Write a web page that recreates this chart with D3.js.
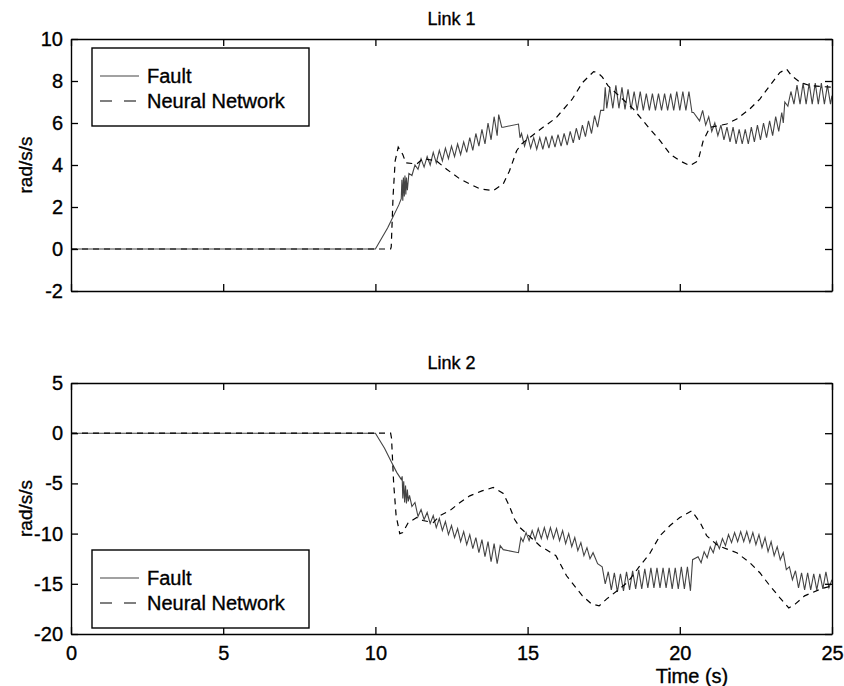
<!DOCTYPE html>
<html><head><meta charset="utf-8">
<script src="https://cdn.jsdelivr.net/npm/d3@7/dist/d3.min.js"></script>
<style>body{margin:0;background:#fff}svg{display:block}text{font-family:"Liberation Sans",Arial,sans-serif;fill:#000;stroke:#000;stroke-width:0.35px}</style>
</head><body><svg id="c" width="844" height="686"></svg>
<script>
// ---------- data ----------
const xTicks = [0, 5, 10, 15, 20, 25];
const link1YTicks = [-2, 0, 2, 4, 6, 8, 10];
const link2YTicks = [-20, -15, -10, -5, 0, 5];
const seriesNames = ["Fault", "Neural Network"];

const link1Fault = [[0,0],[10.0,0],[10.4,1.0],[10.77,2.1],[10.85,2.4],[10.87,3.3],[10.9,2.3],[10.92,3.4],[10.95,2.5],[10.97,3.5],[11.0,2.6],[11.02,3.4],[11.05,2.8],[11.1,3.6],[11.2,3.5],[11.3,4.0],[11.4,3.8],
[11.5,4.3],[11.6,3.9],[11.7,4.4],[11.8,4.0],[11.9,4.6],[12.0,4.1],[12.1,4.7],[12.2,4.2],[12.3,4.8],[12.4,4.3],[12.5,4.9],[12.6,4.4],[12.7,5.0],[12.8,4.5],[12.9,5.1],[13.0,4.6],[13.1,5.3],[13.2,4.7],[13.3,5.5],[13.4,4.9],[13.5,5.7],[13.6,5.0],[13.7,6.0],[13.8,5.2],[13.9,6.3],[14.0,5.4],[14.05,6.4],[14.15,5.8],
[14.2,5.8],[14.7,5.95],[14.75,5.3],
[14.8,5.5],[14.9,4.9],[15.0,5.4],[15.1,4.8],[15.2,5.3],[15.3,4.75],[15.4,5.3],[15.5,4.75],[15.6,5.35],[15.7,4.8],[15.8,5.4],[15.9,4.85],[16.0,5.45],[16.1,4.9],[16.2,5.5],[16.3,4.95],[16.4,5.6],[16.5,5.05],[16.6,5.75],[16.7,5.2],[16.8,5.9],[16.9,5.35],[17.0,6.1],[17.1,5.5],[17.2,6.35],[17.3,5.8],[17.4,6.6],[17.5,6.6],[17.55,7.7],[17.6,6.7],
[17.7,7.7],[17.8,6.7],[17.9,7.8],[18.0,6.7],[18.1,7.7],[18.2,6.65],[18.3,7.6],[18.4,6.65],[18.5,7.5],[18.6,6.6],[18.7,7.5],[18.8,6.6],[18.9,7.4],[19.0,6.6],[19.1,7.4],[19.2,6.6],[19.3,7.4],[19.4,6.6],[19.5,7.4],[19.6,6.6],[19.7,7.4],[19.8,6.6],[19.9,7.5],[20.0,6.6],[20.1,7.5],[20.2,6.6],[20.3,7.5],[20.4,6.5],
[20.45,6.5],[20.65,6.1],[20.75,6.6],[20.85,5.9],[20.95,6.3],[21.05,5.6],[21.15,6.0],[21.25,5.4],
[21.35,5.9],[21.45,5.2],[21.55,5.8],[21.65,5.1],[21.75,5.8],[21.85,5.0],[21.95,5.7],[22.05,5.0],[22.15,5.7],[22.25,5.0],[22.35,5.8],[22.45,5.1],[22.55,5.9],[22.65,5.2],[22.75,6.0],[22.85,5.3],[22.95,6.1],[23.05,5.4],[23.15,6.3],[23.25,5.6],[23.35,6.5],[23.4,6.0],
[23.45,7.0],[23.55,6.8],[23.65,7.5],[23.75,6.9],[23.85,7.8],[23.95,6.9],[24.05,7.9],[24.15,6.9],[24.25,7.9],[24.35,6.9],[24.45,7.9],[24.55,6.9],[24.65,7.9],[24.75,6.9],[24.85,7.8],[24.95,6.9],[25,7.3]];

const link1NN = [[0,0],[10.5,0],[10.52,0.1],[10.58,2.5],[10.65,4.2],[10.75,4.85],[10.9,4.5],[11.0,4.1],[11.36,4.05],[11.56,4.3],[12.0,4.2],[12.34,3.8],[12.78,3.33],[13.22,3.01],[13.44,2.86],[13.87,2.78],[14.2,3.1],[14.4,3.7],[14.64,4.68],[14.8,5.0],[15.4,5.68],[15.93,6.24],[16.46,7.12],[16.8,7.92],[17.17,8.45],[17.3,8.4],[17.45,8.2],[17.64,7.78],[18.47,6.67],[19.02,5.71],[19.35,5.16],[19.68,4.52],[20.0,4.2],[20.33,3.97],[20.6,4.2],[20.77,5.16],[20.99,5.79],[21.54,5.95],[21.87,6.19],[22.3,6.67],[22.63,7.14],[22.96,7.78],[23.29,8.41],[23.51,8.57],[23.67,8.25],[23.95,7.94],[24.28,7.78],[25,7.7]];

const link2Fault = [[0,0],[10.0,0],[10.3,-1.5],[10.53,-2.9],[10.7,-3.9],[10.85,-4.6],[10.88,-4.3],[10.9,-6.5],[10.93,-4.8],[10.96,-6.9],[10.99,-5.2],[11.02,-7.0],[11.05,-5.6],[11.08,-6.8],[11.12,-6.2],[11.2,-7.3],[11.3,-6.9],
[11.4,-8.3],[11.5,-7.6],[11.6,-8.6],[11.7,-7.9],[11.8,-9.0],[11.9,-8.2],[12.0,-9.4],[12.1,-8.5],[12.2,-9.7],[12.3,-8.8],[12.4,-10.1],[12.5,-9.2],[12.6,-10.4],[12.7,-9.5],[12.8,-10.8],[12.9,-9.8],[13.0,-11.1],[13.1,-10.1],[13.2,-11.5],[13.3,-10.4],[13.4,-11.9],[13.5,-10.6],[13.6,-12.3],[13.7,-10.8],[13.8,-12.8],[13.9,-11.0],[14.0,-13.0],[14.1,-11.2],
[14.2,-11.6],[14.7,-11.9],[14.78,-10.4],
[14.85,-10.8],[14.95,-9.9],[15.05,-10.7],[15.15,-9.7],[15.25,-10.6],[15.35,-9.5],[15.45,-10.5],[15.55,-9.4],[15.65,-10.5],[15.75,-9.4],[15.85,-10.5],[15.95,-9.5],[16.05,-10.7],[16.15,-9.7],[16.25,-11.0],[16.35,-10.0],[16.45,-11.3],[16.55,-10.4],[16.65,-11.7],[16.75,-10.9],[16.85,-12.2],[16.95,-11.4],[17.05,-12.5],[17.15,-11.9],
[17.3,-13.0],[17.45,-13.3],
[17.55,-15.0],[17.65,-13.8],[17.75,-15.6],[17.85,-13.9],[17.95,-15.8],[18.05,-14.0],[18.15,-15.7],[18.25,-13.8],[18.35,-15.6],[18.45,-13.7],[18.55,-15.5],[18.65,-13.6],[18.75,-15.5],[18.85,-13.5],[18.95,-15.4],[19.05,-13.4],[19.15,-15.4],[19.25,-13.4],[19.35,-15.4],[19.45,-13.4],[19.55,-15.4],[19.65,-13.4],[19.75,-15.5],[19.85,-13.4],[19.95,-15.5],[20.05,-13.3],[20.15,-15.5],[20.25,-13.3],[20.35,-15.7],
[20.42,-12.6],[20.6,-12.3],[20.7,-12.9],[20.8,-11.8],[20.9,-12.4],[21.0,-11.3],[21.1,-11.9],[21.2,-10.8],[21.3,-11.5],[21.4,-10.5],[21.5,-11.2],[21.6,-10.1],[21.7,-10.9],[21.8,-9.9],[21.9,-10.8],[22.0,-9.8],[22.1,-10.8],[22.2,-9.8],[22.3,-10.9],[22.4,-9.9],[22.5,-11.1],[22.6,-10.1],[22.7,-11.4],[22.8,-10.4],[22.9,-11.8],[23.0,-10.8],[23.1,-12.2],[23.2,-11.3],[23.3,-12.6],[23.4,-11.9],
[23.5,-13.6],[23.6,-13.3],[23.7,-14.6],[23.8,-13.7],[23.9,-15.4],[24.0,-13.9],[24.1,-15.6],[24.2,-13.9],[24.3,-15.6],[24.4,-14.0],[24.5,-15.6],[24.6,-14.0],[24.7,-15.5],[24.8,-13.8],[24.9,-15.4],[25,-14.6]];

const link2NN = [[0,0],[10.5,0],[10.53,-0.5],[10.6,-5.0],[10.68,-8.2],[10.8,-10.0],[10.9,-9.9],[11.08,-8.9],[11.36,-8.4],[11.56,-8.7],[11.9,-8.9],[12.12,-8.2],[12.45,-7.7],[12.78,-6.9],[13.1,-6.24],[13.5,-5.75],[13.87,-5.41],[14.2,-6.0],[14.4,-7.24],[14.57,-8.57],[14.75,-9.4],[15.4,-11.2],[15.93,-12.2],[16.28,-14.2],[16.8,-16.2],[17.1,-17.0],[17.35,-17.2],[17.6,-16.5],[17.9,-15.8],[18.3,-14.8],[18.69,-13.2],[19.0,-12.05],[19.35,-10.2],[19.68,-9.2],[20.0,-8.4],[20.39,-7.74],[20.67,-8.9],[20.88,-10.2],[21.25,-11.2],[21.87,-11.9],[22.3,-12.9],[22.63,-13.9],[22.96,-15.2],[23.29,-16.4],[23.58,-17.4],[23.8,-17.0],[24.1,-16.2],[24.64,-15.5],[25,-15.2]];

// ---------- drawing ----------
const svg = d3.select("#c");
const L = 71, R = 832;
const x = d3.scaleLinear().domain([0, 25]).range([L, R]);

const panels = [
  {title:"Link 1", top:39, bottom:291, dom:[-2,10], yt:link1YTicks, fault:link1Fault, nn:link1NN, legTop:48, showX:false, id:"p1"},
  {title:"Link 2", top:383, bottom:634, dom:[-20,5], yt:link2YTicks, fault:link2Fault, nn:link2NN, legTop:550, showX:true, id:"p2"}
];

const FS = 20;
panels.forEach(p => {
  const y = d3.scaleLinear().domain(p.dom).range([p.bottom, p.top]);
  const g = svg.append("g");
  g.append("clipPath").attr("id", p.id).append("rect")
    .attr("x", L).attr("y", p.top).attr("width", R - L).attr("height", p.bottom - p.top);

  const line = d3.line().x(d => x(d[0])).y(d => y(d[1]));
  const plot = g.append("g").attr("clip-path", `url(#${p.id})`);
  plot.append("path").datum(p.fault).attr("d", line)
    .attr("fill", "none").attr("stroke", "#444").attr("stroke-width", 1.1);
  plot.append("path").datum(p.nn).attr("d", line)
    .attr("fill", "none").attr("stroke", "#000").attr("stroke-width", 1.2)
    .attr("stroke-dasharray", "6,5");

  // axes (box with inward ticks)
  const tl = 7;
  const ab = g.append("g").attr("transform", `translate(0,${p.bottom})`)
    .call(d3.axisBottom(x).tickValues(xTicks).tickSizeInner(-tl).tickSizeOuter(0).tickPadding(10)
      .tickFormat(p.showX ? d3.format("d") : () => ""));
  const at = g.append("g").attr("transform", `translate(0,${p.top})`)
    .call(d3.axisTop(x).tickValues(xTicks).tickSizeInner(-tl).tickSizeOuter(0).tickFormat(() => ""));
  const al = g.append("g").attr("transform", `translate(${L},0)`)
    .call(d3.axisLeft(y).tickValues(p.yt).tickSizeInner(-tl).tickSizeOuter(0).tickPadding(8)
      .tickFormat(d => d < 0 ? "-" + Math.abs(d) : String(d)));
  const ar = g.append("g").attr("transform", `translate(${R},0)`)
    .call(d3.axisRight(y).tickValues(p.yt).tickSizeInner(-tl).tickSizeOuter(0).tickFormat(() => ""));
  [ab, at, al, ar].forEach(a => {
    a.selectAll(".domain").attr("stroke", "#000").attr("stroke-width", 1.4);
    a.selectAll(".tick line").attr("stroke", "#000").attr("stroke-width", 1.3);
    a.selectAll("text").attr("font-size", FS).attr("font-family", '"Liberation Sans",Arial,sans-serif').attr("fill", "#000");
  });
  ab.selectAll("text").attr("dy", "0.72em").attr("y", 12);

  // title
  g.append("text").attr("x", (L + R) / 2).attr("y", p.top - 14).attr("text-anchor", "middle")
    .attr("font-size", 18).text(p.title);
  // y label
  g.append("text").attr("transform", `translate(${32},${(p.top + p.bottom) / 2}) rotate(-90)`)
    .attr("text-anchor", "middle").attr("font-size", 19).text("rad/s/s");

  // legend
  const lg = g.append("g").attr("transform", `translate(92,${p.legTop})`);
  lg.append("rect").attr("width", 217).attr("height", 78).attr("fill", "#fff")
    .attr("stroke", "#000").attr("stroke-width", 1.4);
  seriesNames.forEach((name, i) => {
    const yy = 28 + i * 25;
    lg.append("line").attr("x1", 8).attr("x2", 47).attr("y1", yy).attr("y2", yy)
      .attr("stroke", i === 0 ? "#444" : "#000").attr("stroke-width", 1.2)
      .attr("stroke-dasharray", i === 0 ? null : "12,12");
    lg.append("text").attr("x", 55).attr("y", yy).attr("dy", "0.35em").attr("font-size", FS).text(name);
  });
});

svg.append("text").attr("x", 692).attr("y", 683).attr("text-anchor", "middle")
  .attr("font-size", FS).text("Time (s)");
</script></body></html>
